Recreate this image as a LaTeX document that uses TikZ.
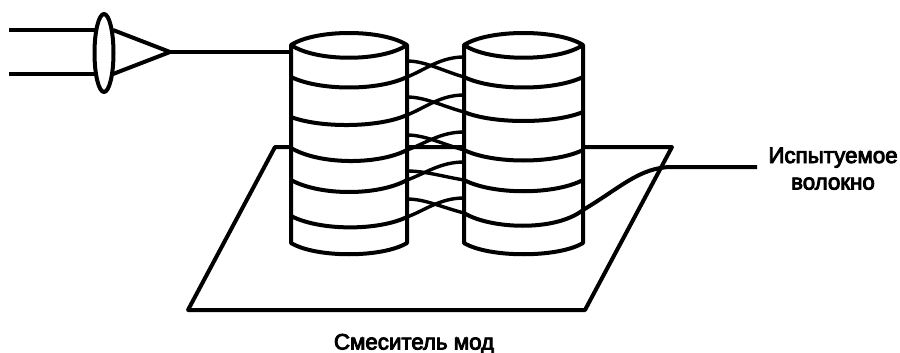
\documentclass[tikz,border=0pt]{standalone}
\usepackage{fontspec}
\setmainfont{Liberation Sans}
\newfontfamily\lblfont{Liberation Sans}[FakeBold=4]
\tikzset{
  ln/.style={draw=black,line width=4pt,line join=round},
  thin ln/.style={draw=black,line width=3.4pt},
  lbl/.style={font=\lblfont\fontsize{22.3}{24}\selectfont,inner sep=0pt,text=black,anchor=base},
}
% band across cylinder: x0 x1 ystart ylow(ctrl) yend
\newcommand{\band}[5]{\draw[ln] (#1,#3) .. controls (#1+29,#4) and (#2-29,#4) .. (#2,#5);}
% crossing strands between the two cylinders
\newcommand{\strandup}[2]{\draw[thin ln] (407,#1) .. controls (425,#1+0.35*#2-0.35*#1) and (440,#2) .. (464,#2);}
\newcommand{\stranddn}[2]{\draw[thin ln] (407,#1) .. controls (425,#1) and (442,#2+0.4*#1-0.4*#2) .. (464,#2);}
\begin{document}
\begin{tikzpicture}[x=1pt,y=-1pt]
\useasboundingbox (0,0) rectangle (900,353);
% plate
\coordinate (pa) at (275,147);
\coordinate (pb) at (672,147);
\coordinate (pc) at (585,310);
\coordinate (pd) at (188,310);
\draw[ln] (pa) -- (pb) -- (pc) -- (pd) -- cycle;
% input beam and lens
\coordinate (b1) at (9,30);
\coordinate (b2) at (9,74);
\coordinate (t1) at (95,30);
\coordinate (t2) at (95,74);
\coordinate (f) at (170,52);
\coordinate (c1) at (291,52);
\draw[ln] (b1) -- (t1);
\draw[ln] (b2) -- (t2);
\draw[ln] (113,30) -- (f) -- (113,74);
\draw[ln] (f) -- (c1);
\draw[ln,fill=white] (104,53) ellipse [x radius=9.5, y radius=39];
% cylinders
\foreach \xa/\xb in {291/407,464/583}{
  \draw[ln,fill=white] (\xa,45) .. controls (\xa+25,29) and (\xb-25,29) .. (\xb,45)
     -- (\xb,243) .. controls (\xb-25,258) and (\xa+25,258) .. (\xa,243) -- cycle;
  \draw[ln] (\xa,45) .. controls (\xa+25,62) and (\xb-25,62) .. (\xb,45);
}
% bands, left
\band{291}{407}{77}{91}{77}
\band{291}{407}{117}{128}{115}
\band{291}{407}{148}{165}{150}
\band{291}{407}{180}{196}{180}
\band{291}{407}{216}{231}{217}
% bands, right
\band{464}{583}{77}{91}{77}
\band{464}{583}{112}{124}{112}
\band{464}{583}{150}{164}{150}
\band{464}{583}{180}{195}{180}
% last band continues as the fibre under test
\coordinate (fe) at (757,167);
\draw[ln] (464,213) .. controls (490,229) and (555,232) .. (583,210)
   .. controls (620,188) and (640,167) .. (672,167) -- (fe);
% crossings between the cylinders
\strandup{77}{57}\stranddn{61}{77}
\strandup{115}{95}\stranddn{97}{112}
\strandup{150}{132}\stranddn{135}{150}
\strandup{180}{162}\stranddn{171}{180}
\strandup{217}{198}\stranddn{199}{213}
% labels
\node[lbl] (n1) at (833,163) {Испытуемое};
\node[lbl] (n2) at (833,189.5) {волокно};
\node[lbl] (n3) at (414,349.5) {Смеситель мод};
\end{tikzpicture}
\end{document}
